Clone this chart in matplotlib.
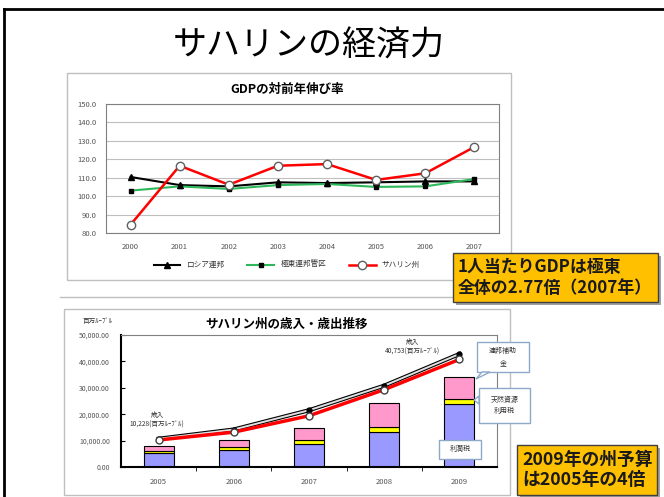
import matplotlib
matplotlib.use("Agg")
import matplotlib.pyplot as plt
from matplotlib.patches import Rectangle, Polygon
from matplotlib.ticker import FuncFormatter

plt.rcParams['font.family'] = ['Noto Sans CJK JP', 'DejaVu Sans']

# GDP growth vs previous year (%)
gdp_years = ["2000", "2001", "2002", "2003", "2004", "2005", "2006", "2007"]
gdp_russia = [110.4, 106.0, 105.3, 107.5, 107.1, 107.5, 108.0, 108.0]
gdp_far_east = [103.0, 105.3, 103.9, 106.0, 106.6, 105.0, 105.3, 109.3]
gdp_sakhalin = [84.5, 116.5, 106.2, 116.5, 117.4, 108.8, 112.4, 126.7]
gdp_names = ["ロシア連邦", "極東連邦管区", "サハリン州"]

# Sakhalin budget (million rubles)
budget_years = ["2005", "2006", "2007", "2008", "2009"]
profit_tax = [5200, 6400, 8600, 13200, 23900]
resource_tax = [850, 1150, 1500, 2000, 1900]
federal_subsidy = [1750, 2500, 4500, 8900, 8300]
revenue = [10228, 13200, 19400, 29300, 40753]
expenditure = [10700, 14200, 21500, 30800, 42800]

W, H = 664, 497


def rect(x0, y0, x1, y1):
    return [x0 / W, 1 - y1 / H, (x1 - x0) / W, (y1 - y0) / H]


fig = plt.figure(figsize=(6.64, 4.97), dpi=100)

bg = fig.add_axes([0, 0, 1, 1])
bg.set_xlim(0, W)
bg.set_ylim(H, 0)
bg.axis("off")

# slide border
bg.plot([4, 4], [9, H], color="black", lw=2)
bg.plot([4, W], [9, 9], color="black", lw=2)

bg.text(309, 46, "サハリンの経済力", fontsize=24.5, ha="center", va="center")

# chart frames + separator
bg.add_patch(Rectangle((67, 73), 444, 207, fill=False, ec="#BFBFBF", lw=1))
bg.plot([60, 520], [297, 297], color="#BFBFBF", lw=1)
bg.add_patch(Rectangle((64, 309), 446, 186, fill=False, ec="#BFBFBF", lw=1))

# ---- chart 1: GDP growth
ax1 = fig.add_axes(rect(106, 104, 499, 233))
x1 = list(range(len(gdp_years)))
ax1.plot(x1, gdp_russia, color="black", lw=1.5, marker="^", ms=4, label=gdp_names[0])
ax1.plot(x1, gdp_far_east, color="#2EB85C", lw=1.5, marker="s", ms=3,
         mfc="black", mec="black", label=gdp_names[1])
ax1.plot(x1, gdp_sakhalin, color="red", lw=1.8, marker="o", ms=6,
         mfc="white", mec="#606060", label=gdp_names[2])
ax1.set_xlim(-0.5, 7.5)
ax1.set_ylim(80, 150)
ax1.set_yticks(range(80, 151, 10))
ax1.yaxis.set_major_formatter(FuncFormatter(lambda v, p: f"{v:.1f}"))
ax1.set_xticks(x1)
ax1.set_xticklabels(gdp_years)
ax1.grid(axis="y", color="#BFBFBF", lw=0.8)
ax1.set_axisbelow(True)
ax1.tick_params(length=0, labelsize=5.5, labelcolor="#555555", pad=7)
for s in ax1.spines.values():
    s.set_color("#808080")
    s.set_linewidth(0.8)
ax1.legend(loc="center", bbox_to_anchor=(0.46, -0.25), ncol=3, frameon=False,
           fontsize=5.5, handlelength=3.5, columnspacing=3, labelcolor="#333333")
bg.text(287, 89, "GDPの対前年伸び率", fontsize=9, weight="bold", ha="center", va="center")

# ---- chart 2: budget
ax2 = fig.add_axes(rect(121, 335, 497, 467))
x2 = list(range(len(budget_years)))
b1 = [p + r for p, r in zip(profit_tax, resource_tax)]
ax2.bar(x2, profit_tax, width=0.4, color="#9999FF", ec="black", lw=0.8)
ax2.bar(x2, resource_tax, width=0.4, bottom=profit_tax, color="#FFFF00", ec="black", lw=0.8)
ax2.bar(x2, federal_subsidy, width=0.4, bottom=b1, color="#FF99CC", ec="black", lw=0.8)
ax2.plot(x2, expenditure, color="black", lw=3, zorder=3)
ax2.plot(x2, expenditure, color="#E0E0E0", lw=1.4, zorder=3.1)
ax2.plot(x2, expenditure, "o", color="black", ms=3.5, zorder=3.2)
ax2.plot(x2, revenue, color="red", lw=2.5, marker="o", ms=5,
         mfc="white", mec="#404040", zorder=4)
ax2.set_xlim(-0.5, 4.5)
ax2.set_ylim(0, 50000)
ax2.set_yticks(range(0, 50001, 10000))
ax2.yaxis.set_major_formatter(FuncFormatter(lambda v, p: f"{v:,.2f}"))
ax2.set_xticks(x2)
ax2.set_xticklabels(budget_years)
ax2.set_xticks([0.5, 1.5, 2.5, 3.5], minor=True)
ax2.tick_params(axis="x", which="major", length=0, labelsize=5.5, labelcolor="#555555", pad=8)
ax2.tick_params(axis="x", which="minor", length=3, direction="out")
ax2.tick_params(axis="y", length=3, direction="in", labelsize=5, labelcolor="#555555", pad=8)
ax2.spines["left"].set_linewidth(1.5)
ax2.spines["bottom"].set_linewidth(1.5)
ax2.spines["top"].set_color("#808080")
ax2.spines["right"].set_color("#808080")
ax2.spines["top"].set_linewidth(0.8)
ax2.spines["right"].set_linewidth(0.8)
ax2.text(-0.02, 17900, "歳入\n10,228(百万ﾙｰﾌﾞﾙ)", fontsize=4.8, ha="center", va="center", color="#333333")
ax2.text(3.37, 45500, "歳入\n40,753(百万ﾙｰﾌﾞﾙ)", fontsize=4.8, ha="center", va="center", color="#333333")
bg.text(287, 324, "サハリン州の歳入・歳出推移", fontsize=9, weight="bold", ha="center", va="center")
bg.text(98, 321, "百万ﾙｰﾌﾞﾙ", fontsize=4.8, ha="center", va="center", color="#333333")

# ---- overlay: callouts and highlight boxes
fg = fig.add_axes([0, 0, 1, 1], zorder=5)
fg.set_xlim(0, W)
fg.set_ylim(H, 0)
fg.axis("off")

callouts = [
    ((477, 342, 529, 372), "連邦補助\n金", [(482, 372), (490, 372), (476, 379)]),
    ((479, 388, 530, 423), "天然資源\n利用税", [(479, 396), (479, 404), (474, 400)]),
    ((439, 440, 481, 459), "利潤税", None),
]
for (cx0, cy0, cx1, cy1), txt, ptr in callouts:
    fg.add_patch(Rectangle((cx0, cy0), cx1 - cx0, cy1 - cy0, fc="white", ec="#8DA9C8", lw=1))
    if ptr:
        fg.add_patch(Polygon(ptr, closed=True, fc="white", ec="#8DA9C8", lw=1))
    fg.text((cx0 + cx1) / 2, (cy0 + cy1) / 2, txt, fontsize=5, ha="center", va="center",
            color="#333333", linespacing=1.6)

boxes = [
    ((453, 253, 658, 302), "1人当たりGDPは極東\n全体の2.77倍（2007年）", 12.2),
    ((517, 445, 657, 495), "2009年の州予算\nは2005年の4倍", 12.8),
]
for (bx0, by0, bx1, by1), txt, fs in boxes:
    fg.add_patch(Rectangle((bx0 + 3, by0 + 3), bx1 - bx0, by1 - by0, fc="#A0A0A0", ec="none"))
    fg.add_patch(Rectangle((bx0, by0), bx1 - bx0, by1 - by0, fc="#FFC000", ec="#404040", lw=1))
    fg.text(bx0 + 5, (by0 + by1) / 2, txt, fontsize=fs, weight="bold", ha="left", va="center",
            color="#1A1A1A", linespacing=1.15)

fig.savefig("out.png", dpi=100)
